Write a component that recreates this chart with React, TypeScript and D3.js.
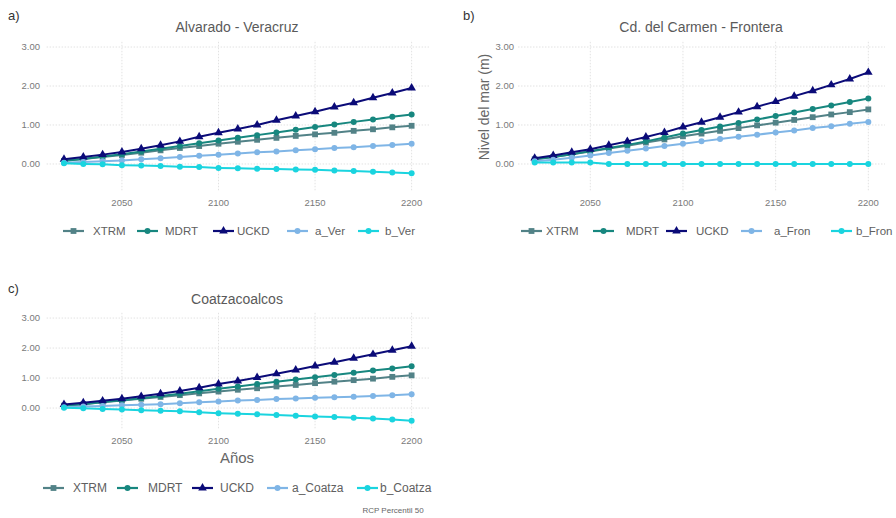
import React, { useEffect, useRef } from 'react';
import * as d3 from 'd3';

const years = [2020, 2030, 2040, 2050, 2060, 2070, 2080, 2090, 2100, 2110, 2120, 2130, 2140, 2150, 2160, 2170, 2180, 2190, 2200];
const xTicks = [2050, 2100, 2150, 2200];
const yTicks = [0, 1, 2, 3];
const yTickLabels = ['0.00', '1.00', '2.00', '3.00'];

// a) Alvarado - Veracruz
const verXTRM = [0.08, 0.13, 0.18, 0.23, 0.29, 0.35, 0.41, 0.46, 0.52, 0.57, 0.62, 0.67, 0.72, 0.76, 0.80, 0.85, 0.89, 0.94, 0.98];
const verMDRT = [0.08, 0.13, 0.19, 0.25, 0.32, 0.39, 0.46, 0.53, 0.60, 0.67, 0.74, 0.81, 0.88, 0.95, 1.01, 1.08, 1.14, 1.21, 1.27];
const verUCKD = [0.12, 0.18, 0.24, 0.31, 0.39, 0.48, 0.58, 0.70, 0.80, 0.90, 1.00, 1.12, 1.23, 1.34, 1.46, 1.57, 1.70, 1.82, 1.95];
const verA = [0.03, 0.05, 0.07, 0.09, 0.12, 0.15, 0.18, 0.21, 0.24, 0.27, 0.30, 0.32, 0.35, 0.38, 0.41, 0.43, 0.46, 0.49, 0.52];
const verB = [0.02, 0.00, -0.01, -0.03, -0.04, -0.05, -0.07, -0.08, -0.10, -0.11, -0.12, -0.13, -0.14, -0.15, -0.17, -0.18, -0.20, -0.22, -0.24];

// b) Cd. del Carmen - Frontera
const fronXTRM = [0.12, 0.18, 0.25, 0.32, 0.40, 0.47, 0.55, 0.63, 0.71, 0.78, 0.85, 0.92, 0.99, 1.06, 1.13, 1.20, 1.27, 1.33, 1.40];
const fronMDRT = [0.12, 0.18, 0.25, 0.33, 0.41, 0.49, 0.58, 0.68, 0.78, 0.87, 0.96, 1.05, 1.14, 1.23, 1.32, 1.41, 1.50, 1.59, 1.68];
const fronUCKD = [0.15, 0.22, 0.30, 0.38, 0.48, 0.58, 0.69, 0.81, 0.95, 1.07, 1.20, 1.33, 1.47, 1.60, 1.74, 1.88, 2.03, 2.18, 2.35];
const fronA = [0.07, 0.11, 0.16, 0.22, 0.28, 0.34, 0.40, 0.46, 0.52, 0.58, 0.64, 0.70, 0.75, 0.81, 0.86, 0.92, 0.97, 1.03, 1.08];
const fronB = [0.04, 0.04, 0.04, 0.04, 0.00, 0.00, 0.00, 0.00, 0.00, 0.00, 0.00, 0.00, 0.00, 0.00, 0.00, 0.00, 0.00, 0.00, 0.00];

// c) Coatzacoalcos
const coaXTRM = [0.08, 0.13, 0.19, 0.25, 0.31, 0.37, 0.43, 0.49, 0.55, 0.61, 0.66, 0.72, 0.77, 0.83, 0.88, 0.93, 0.98, 1.04, 1.09];
const coaMDRT = [0.08, 0.13, 0.20, 0.26, 0.33, 0.40, 0.48, 0.56, 0.64, 0.72, 0.80, 0.88, 0.95, 1.03, 1.10, 1.18, 1.25, 1.32, 1.39];
const coaUCKD = [0.12, 0.18, 0.24, 0.31, 0.39, 0.48, 0.57, 0.68, 0.80, 0.90, 1.02, 1.14, 1.27, 1.40, 1.53, 1.66, 1.79, 1.93, 2.06];
const coaA = [0.03, 0.05, 0.07, 0.09, 0.11, 0.13, 0.16, 0.19, 0.22, 0.25, 0.27, 0.30, 0.32, 0.34, 0.36, 0.38, 0.40, 0.43, 0.46];
const coaB = [0.01, -0.01, -0.03, -0.05, -0.07, -0.09, -0.11, -0.14, -0.17, -0.19, -0.21, -0.23, -0.26, -0.28, -0.30, -0.32, -0.35, -0.38, -0.42];

const commonNames = ['XTRM', 'MDRT', 'UCKD'];
const colors = ['#528287', '#17877f', '#0b0b78', '#7fb5e6', '#1ad4df'];
const shapes = ['square', 'circle', 'triangle', 'circle', 'circle'];

const panels = [
  {
    tag: 'a)', title: 'Alvarado - Veracruz', names: [...commonNames, 'a_Ver', 'b_Ver'],
    data: [verXTRM, verMDRT, verUCKD, verA, verB],
    xr: [46.6, 429], yr: [190.3, 40.2], tagX: 8, tagY: 20, titleX: 237, titleY: 32,
    yLabX: 40, xLabY: 205.5, legY: 231, legFont: 11.5,
    keyX: [63, 137, 213, 287, 358], textX: [93, 165, 237, 315, 385],
  },
  {
    tag: 'b)', title: 'Cd. del Carmen - Frontera', names: [...commonNames, 'a_Fron', 'b_Fron'],
    data: [fronXTRM, fronMDRT, fronUCKD, fronA, fronB],
    xr: [518, 885], yr: [190.3, 40.2], tagX: 463, tagY: 20, titleX: 701, titleY: 32,
    yLabX: 514, xLabY: 205.5, legY: 231, legFont: 11.5,
    keyX: [521, 593, 666, 741, 831], textX: [546, 626, 696, 774, 856],
  },
  {
    tag: 'c)', title: 'Coatzacoalcos', names: [...commonNames, 'a_Coatza', 'b_Coatza'],
    data: [coaXTRM, coaMDRT, coaUCKD, coaA, coaB],
    xr: [46.6, 429], yr: [428.3, 312.8], tagX: 8, tagY: 293, titleX: 237, titleY: 304,
    yLabX: 40, xLabY: 443.5, legY: 488, legFont: 12,
    keyX: [43, 117, 192, 267, 357], textX: [73, 148, 220, 292, 380],
  },
];

const FONT = 'Liberation Sans, Arial, sans-serif';

function drawMarker(g: any, shape: string, x: number, y: number, color: string) {
  if (shape === 'circle') {
    g.append('circle').attr('cx', x).attr('cy', y).attr('r', 3).attr('fill', color);
  } else if (shape === 'square') {
    g.append('rect').attr('x', x - 2.9).attr('y', y - 2.9).attr('width', 5.8).attr('height', 5.8).attr('fill', color);
  } else {
    const s = d3.symbol().type(d3.symbolTriangle).size(32);
    g.append('path').attr('d', s()).attr('transform', `translate(${x},${y})`).attr('fill', color);
  }
}

export default function App() {
  const ref = useRef<SVGSVGElement>(null);
  useEffect(() => {
    document.body.style.margin = '0';
    const svg = d3.select(ref.current);
    svg.selectAll('*').remove();
    svg.append('rect').attr('width', 896).attr('height', 518).attr('fill', '#fff');

    panels.forEach((p) => {
      const g = svg.append('g');
      const x = d3.scaleLinear().domain([2011, 2209]).range(p.xr);
      const y = d3.scaleLinear().domain([-0.675, 3.175]).range(p.yr);

      // grid
      g.selectAll('.hg').data(yTicks).enter().append('line')
        .attr('x1', p.xr[0]).attr('x2', p.xr[1])
        .attr('y1', (d) => y(d)).attr('y2', (d) => y(d))
        .attr('stroke', '#e2e2e2').attr('stroke-width', 1).attr('stroke-dasharray', '1.5,1.5');
      g.selectAll('.vg').data(xTicks).enter().append('line')
        .attr('y1', p.yr[0]).attr('y2', p.yr[1])
        .attr('x1', (d) => x(d)).attr('x2', (d) => x(d))
        .attr('stroke', '#e2e2e2').attr('stroke-width', 1).attr('stroke-dasharray', '1.5,1.5');

      // tick labels
      g.selectAll('.yl').data(yTicks).enter().append('text')
        .attr('x', p.yLabX).attr('y', (d) => y(d) + 3.3)
        .attr('text-anchor', 'end').attr('font-family', FONT).attr('font-size', 9.5).attr('fill', '#7a7a7a')
        .text((d, i) => yTickLabels[i]);
      g.selectAll('.xl').data(xTicks).enter().append('text')
        .attr('x', (d) => x(d)).attr('y', p.xLabY)
        .attr('text-anchor', 'middle').attr('font-family', FONT).attr('font-size', 9.5).attr('fill', '#7a7a7a')
        .text((d) => String(d));

      // series
      const line = d3.line<number>().x((d, i) => x(years[i])).y((d) => y(d));
      p.data.forEach((vals, si) => {
        g.append('path').attr('d', line(vals) as string).attr('fill', 'none')
          .attr('stroke', colors[si]).attr('stroke-width', 2).attr('stroke-linejoin', 'round');
        vals.forEach((v, i) => drawMarker(g, shapes[si], x(years[i]), y(v), colors[si]));
      });

      // title and tag
      g.append('text').attr('x', p.titleX).attr('y', p.titleY).attr('text-anchor', 'middle')
        .attr('font-family', FONT).attr('font-size', 14).attr('fill', '#5a5a5a').text(p.title);
      g.append('text').attr('x', p.tagX).attr('y', p.tagY)
        .attr('font-family', FONT).attr('font-size', 13).attr('fill', '#333').text(p.tag);

      // legend
      p.names.forEach((name, si) => {
        const kx = p.keyX[si];
        const kw = 21;
        g.append('line').attr('x1', kx).attr('x2', kx + kw).attr('y1', p.legY).attr('y2', p.legY)
          .attr('stroke', colors[si]).attr('stroke-width', 2.2);
        drawMarker(g, shapes[si], kx + kw / 2, p.legY, colors[si]);
        g.append('text').attr('x', p.textX[si]).attr('y', p.legY + 4)
          .attr('font-family', FONT).attr('font-size', p.legFont).attr('fill', '#606060').text(name);
      });
    });

    svg.append('text').attr('x', 484).attr('y', 107).attr('transform', 'rotate(-90,484,107)')
      .attr('text-anchor', 'middle').attr('dy', '0.35em').attr('font-family', FONT).attr('font-size', 14)
      .attr('fill', '#666').text('Nivel del mar (m)');
    svg.append('text').attr('x', 237).attr('y', 463).attr('text-anchor', 'middle')
      .attr('font-family', FONT).attr('font-size', 15).attr('fill', '#666').text('Años');
    svg.append('text').attr('x', 393).attr('y', 513).attr('text-anchor', 'middle')
      .attr('font-family', FONT).attr('font-size', 8).attr('fill', '#666').text('RCP Percentil 50');
  }, []);
  return <svg ref={ref} width={896} height={518} style={{ display: 'block' }} />;
}
